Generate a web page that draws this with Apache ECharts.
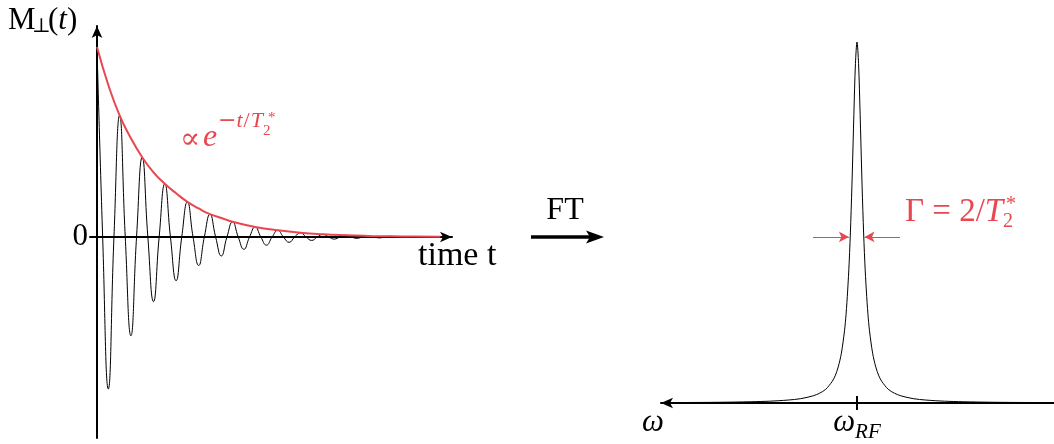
<!DOCTYPE html>
<html>
<head>
<meta charset="utf-8">
<script src="https://cdn.jsdelivr.net/npm/echarts@6/dist/echarts.min.js"></script>
<style>
  html, body { margin: 0; padding: 0; background: #ffffff; }
  #chart { width: 1054px; height: 444px; }
</style>
</head>
<body>
<div id="chart"></div>
<script>
// Free induction decay, sampled at its extrema and zero crossings (period = 1)
const fidTime = [0, 0.25, 0.5, 0.75, 1, 1.25, 1.5, 1.75, 2, 2.25, 2.5, 2.75, 3, 3.25, 3.5, 3.75,
  4, 4.25, 4.5, 4.75, 5, 5.25, 5.5, 5.75, 6, 6.25, 6.5, 6.75, 7, 7.25, 7.5, 7.75,
  8, 8.25, 8.5, 8.75, 9, 9.25, 9.5, 9.75, 10, 10.25, 10.5, 10.75, 11, 11.25, 11.5, 11.75,
  12, 12.25, 12.5, 12.75, 13, 13.25, 13.5, 13.75, 14];
const fidSignal = [1, 0, -0.80, 0, 0.64, 0, -0.52, 0, 0.42, 0, -0.34, 0, 0.28, 0, -0.23, 0,
  0.185, 0, -0.15, 0, 0.12, 0, -0.10, 0, 0.08, 0, -0.065, 0, 0.053, 0, -0.043, 0,
  0.035, 0, -0.028, 0, 0.022, 0, -0.018, 0, 0.014, 0, -0.011, 0, 0.009, 0, -0.007, 0,
  0.0057, 0, -0.0045, 0, 0.0036, 0, -0.003, 0, 0.0023];

// Decay envelope  ∝ e^{-t/T2*}
const envTime = [0, 0.5, 1, 1.5, 2, 2.5, 3, 3.5, 4, 4.5, 5, 5.5, 6, 7, 8, 9, 10, 11, 12, 13, 14, 15.2];
const envAmp = [1, 0.80, 0.64, 0.52, 0.42, 0.34, 0.28, 0.23, 0.185, 0.15, 0.12, 0.10, 0.08,
  0.053, 0.035, 0.022, 0.014, 0.009, 0.0057, 0.0036, 0.0023, 0.0014];

// Spectrum: offset from ω_RF (units of 1/T2*) and relative intensity
const specOffset = [-31.5, -22, -17, -14, -11, -9, -7, -6, -5, -4, -3.5, -3, -2.5, -2, -1.75, -1.5,
  -1.25, -1, -0.75, -0.5, -0.25, 0, 0.25, 0.5, 0.75, 1, 1.25, 1.5, 1.75, 2, 2.5, 3, 3.5, 4,
  5, 6, 7, 9, 11, 14, 17, 22, 31.4];
const specIntensity = [0.001, 0.002, 0.0035, 0.005, 0.0082, 0.012, 0.02, 0.027, 0.038, 0.059,
  0.075, 0.1, 0.138, 0.2, 0.246, 0.31, 0.39, 0.5, 0.64, 0.8, 0.94, 1, 0.94, 0.8, 0.64, 0.5,
  0.39, 0.31, 0.246, 0.2, 0.138, 0.1, 0.075, 0.059, 0.038, 0.027, 0.02, 0.012, 0.0082, 0.005,
  0.0035, 0.002, 0.001];

// Linewidth markers: height on the line and the two arrow spans
const gammaLevel = 0.46;
const gammaLeft = [7.04, 1.3];
const gammaRight = [-6.88, -1.2];

// Axis labels
const timeTickValues = [0];
const freqTickValues = [0, 31.36];

const RED = '#e8474f';
const SERIF = '"Liberation Serif", "DejaVu Serif", serif';
const MATH = '"DejaVu Serif", serif';

const chart = echarts.init(document.getElementById('chart'), null, { renderer: 'canvas' });

function arrowLine(ends, onZero) {
  return {
    onZero: onZero,
    symbol: ends,
    symbolSize: [8, 12],
    lineStyle: { color: '#000', width: 2 }
  };
}

function txt(x, y, text, size, opts) {
  return {
    type: 'text', x: x, y: y, silent: true,
    style: Object.assign({
      text: text, fontSize: size, fontFamily: SERIF, fill: '#000',
      verticalAlign: 'middle', align: 'left'
    }, opts || {})
  };
}

const option = {
  animation: false,
  backgroundColor: '#ffffff',
  grid: [
    { left: 90, top: 26, width: 362, bottom: 6, outerBoundsMode: 'none', containLabel: false },
    { left: 661, top: 42, right: 0, bottom: 41, outerBoundsMode: 'none', containLabel: false }
  ],
  xAxis: [
    {
      gridIndex: 0, type: 'value', min: -0.31, max: 15.71,
      axisLine: arrowLine(['none', 'arrow'], true), axisTick: { show: false }, axisLabel: { show: false },
      splitLine: { show: false }
    },
    {
      gridIndex: 1, type: 'value', inverse: true, min: -31.52, max: 31.36, position: 'bottom',
      axisLine: arrowLine(['arrow', 'none'], false),
      axisTick: { show: true, customValues: [0], length: 7, lineStyle: { color: '#000', width: 2 } },
      axisLabel: {
        customValues: freqTickValues, margin: 4, color: '#000',
        formatter: function (v) { return v === 0 ? '{w|ω}{s|RF}' : '{w|ω}{p|}'; },
        rich: {
          w: { fontSize: 31, fontFamily: SERIF, fontStyle: 'italic', color: '#000' },
          s: { fontSize: 21, fontFamily: SERIF, fontStyle: 'italic', color: '#000', verticalAlign: 'bottom', padding: [0, 0, -5, 0] },
          p: { width: 16 }
        }
      },
      splitLine: { show: false }
    },
    {
      gridIndex: 1, type: 'value', inverse: true, min: -31.52, max: 31.36, position: 'bottom',
      axisLine: { show: false },
      axisTick: { show: true, inside: true, customValues: [0], length: 7, lineStyle: { color: '#000', width: 2 } },
      axisLabel: { show: false }, splitLine: { show: false }
    }
  ],
  yAxis: [
    {
      gridIndex: 0, type: 'value', min: -1.058, max: 1.1105,
      axisLine: arrowLine(['none', 'arrow'], true), axisTick: { show: false },
      axisLabel: {
        customValues: timeTickValues, margin: 2, color: '#000',
        fontSize: 31, fontFamily: SERIF, formatter: function (v) { return String(v); }
      },
      splitLine: { show: false }
    },
    { gridIndex: 1, type: 'value', min: 0, max: 1, show: false }
  ],
  series: [
    {
      name: 'FID', type: 'line', xAxisIndex: 0, yAxisIndex: 0,
      data: fidTime.map(function (t, i) { return [t, fidSignal[i]]; }),
      smooth: 0.5, symbol: 'none', silent: true,
      lineStyle: { color: '#000', width: 1 }, z: 2
    },
    {
      name: 'envelope', type: 'line', xAxisIndex: 0, yAxisIndex: 0,
      data: envTime.map(function (t, i) { return [t, envAmp[i]]; }),
      smooth: 0.5, symbol: 'none', silent: true,
      lineStyle: { color: RED, width: 2 }, z: 3
    },
    {
      name: 'spectrum', type: 'line', xAxisIndex: 1, yAxisIndex: 1,
      data: specOffset.map(function (w, i) { return [w, specIntensity[i]]; }),
      smooth: 0.3, symbol: 'none', silent: true,
      lineStyle: { color: '#000', width: 1 }, z: 2,
      markLine: {
        silent: true, animation: false,
        symbol: ['none', 'arrow'], symbolSize: [8, 10],
        label: { show: false },
        lineStyle: { color: RED, width: 1, type: 'solid' },
        emphasis: { disabled: true },
        data: [
          [{ coord: [gammaLeft[0], gammaLevel] }, { coord: [gammaLeft[1], gammaLevel] }],
          [{ coord: [gammaRight[0], gammaLevel] }, { coord: [gammaRight[1], gammaLevel] }]
        ]
      }
    }
  ],
  graphic: [
    // M⊥(t)
    txt(8, 21, 'M', 31),
    txt(32, 27, '⊥', 20, { fontFamily: MATH }),
    txt(48, 21, '{a|(}{i|t}{a|)}', 31, {
      rich: {
        a: { fontSize: 31, fontFamily: SERIF },
        i: { fontSize: 31, fontFamily: SERIF, fontStyle: 'italic' }
      }
    }),
    // time axis caption
    txt(418, 256, 'time t', 34),
    // envelope caption  ∝ e^{-t/T2*}
    txt(180, 140, '∝', 30, { fontFamily: MATH, fill: RED }),
    txt(203, 138, 'e', 32, { fontStyle: 'italic', fill: RED }),
    txt(218, 121, '{m|−}{i|t}{a|/}{i|T}', 22, {
      fill: RED,
      rich: {
        m: { fontSize: 22, fontFamily: MATH, color: RED },
        a: { fontSize: 22, fontFamily: SERIF, color: RED, padding: [0, 1, 0, 1] },
        i: { fontSize: 22, fontFamily: SERIF, fontStyle: 'italic', color: RED }
      }
    }),
    txt(263, 131, '2', 15, { fill: RED }),
    txt(268, 118, '*', 15, { fill: RED }),
    // FT arrow
    txt(565, 211, 'FT', 32, { align: 'center' }),
    {
      type: 'line', silent: true,
      shape: { x1: 531, y1: 237, x2: 592, y2: 237 },
      style: { stroke: '#000', lineWidth: 3.5 }
    },
    {
      type: 'polygon', silent: true,
      shape: { points: [[604, 237], [586, 230.5], [590, 237], [586, 243.5]] },
      style: { fill: '#000' }
    },
    // linewidth caption
    txt(905, 212, '{a|Γ = 2/}{i|T}', 33, {
      fill: RED,
      rich: {
        a: { fontSize: 33, fontFamily: SERIF, color: RED },
        i: { fontSize: 33, fontFamily: SERIF, fontStyle: 'italic', color: RED }
      }
    }),
    txt(1003, 222, '2', 20, { fill: RED }),
    txt(1006, 205, '*', 20, { fill: RED })
  ]
};

chart.setOption(option);
</script>
</body>
</html>
